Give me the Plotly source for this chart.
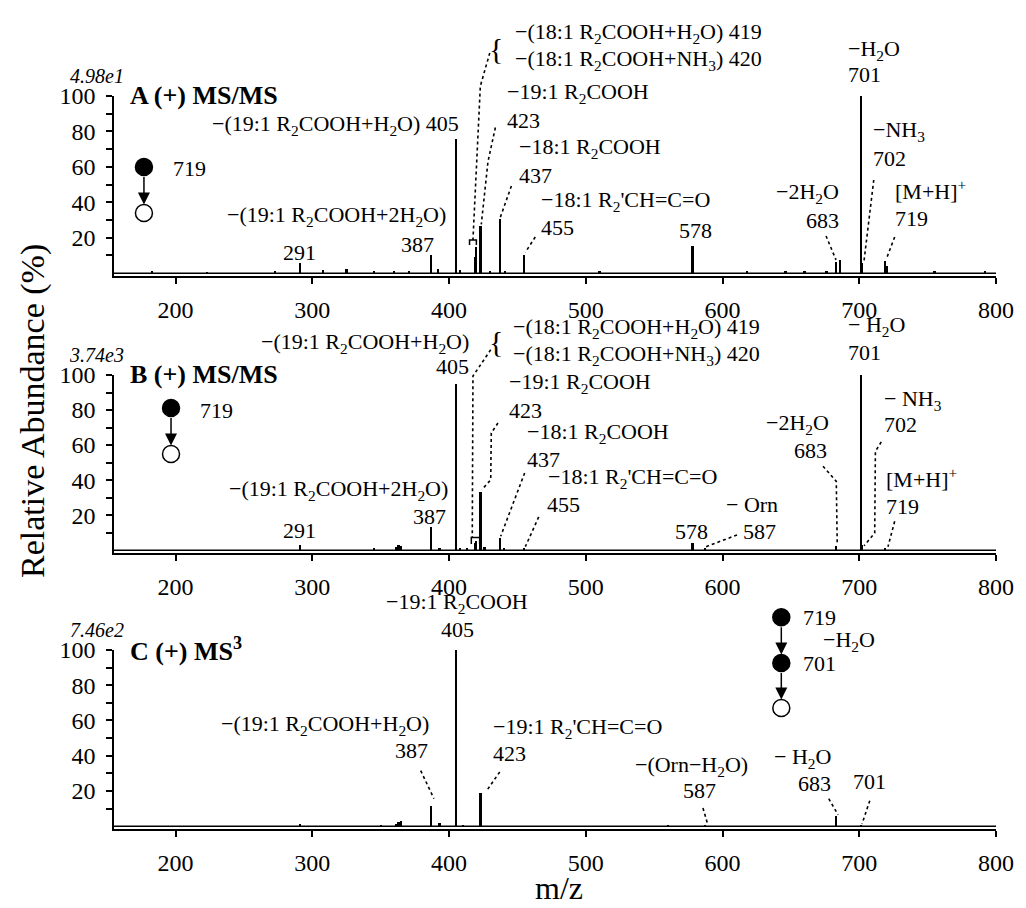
import plotly.graph_objects as go

# ============================================================================
# DATOS: picos de cada espectro (m/z, abundancia relativa %)
# ============================================================================

# A (+) MS/MS de m/z 719
mz_a = [183, 223, 273, 291, 308, 325, 345, 360, 371, 387, 392, 405, 408, 419, 420,
        423, 430, 437, 441, 455, 510, 578, 618, 646, 660, 676, 683, 686, 701, 702,
        719, 720, 755, 792]
ab_a = [1, 0.8, 1.2, 6, 2, 2.5, 1, 1.5, 1, 10.5, 2.5, 75.5, 2, 9, 14.5,
        26.5, 1.5, 30.5, 1.5, 10.5, 1, 15.5, 1, 1.5, 1.5, 1, 6.5, 7.5, 100, 6,
        7, 4, 1, 1]

# B (+) MS/MS de m/z 719
mz_b = [291, 345, 361, 363, 365, 387, 393, 405, 408, 413, 419, 420, 423, 426, 437,
        440, 455, 578, 587, 683, 701, 702, 719]
ab_b = [3, 1, 2, 3, 2.5, 13.5, 1.5, 95, 1.5, 1, 4, 5, 33, 2, 7,
        1.5, 1, 4, 1, 2.5, 100, 3, 1]

# C (+) MS3 (719 -> 701)
mz_c = [291, 350, 361, 363, 365, 387, 393, 405, 410, 423, 560, 587, 683, 701]
ab_c = [1, 0.5, 1.5, 2.5, 3, 11.5, 2, 100, 0.8, 19, 0.4, 0.6, 6, 0.5]

escalas = ['4.98e1', '3.74e3', '7.46e2']
titulos = ['A (+) MS/MS', 'B (+) MS/MS', 'C (+) MS<sup>3</sup>']
ticks_x = [200, 300, 400, 500, 600, 700, 800]
ticks_y = [10, 20, 30, 40, 50, 60, 70, 80, 90, 100]
textos_y = ['', '20', '', '40', '', '60', '', '80', '', '100']

# ============================================================================
# DISEÑO
# ============================================================================

FUENTE = 'Liberation Serif'
ANCHO, ALTO = 1026, 908
X_RANGO = [155, 800]
Y_RANGO = [-1.6, 100]
DOMINIOS = [[0.70485, 0.90308], [0.39978, 0.59581], [0.09581, 0.29295]]
SUFIJOS = ['', '2', '3']

R2 = 'R<sub>2</sub>'
H2O = 'H<sub>2</sub>O'

# etiquetas: (texto, m/z, %, alineación)
etiquetas = [
    [
        (f'−(19:1 {R2}COOH+{H2O}) 405', 408.8, 83.6, 'right'),
        (f'−(19:1 {R2}COOH+2{H2O})', 399.3, 32.3, 'right'),
        ('387', 390.5, 15.9, 'right'),
        ('291', 291, 11.4, 'center'),
        (f'−(18:1 {R2}COOH+{H2O}) 419', 446.8, 135.6, 'left'),
        (f'−(18:1 {R2}COOH+NH<sub>3</sub>) 420', 446.8, 120.3, 'left'),
        (f'−19:1 {R2}COOH', 441.0, 101.7, 'left'),
        ('423', 441.0, 85.9, 'left'),
        (f'−18:1 {R2}COOH', 449.7, 70.6, 'left'),
        ('437', 449.7, 55.4, 'left'),
        (f"−18:1 {R2}'CH=C=O", 465.8, 40.7, 'left'),
        ('455', 465.8, 25.5, 'left'),
        ('578', 580, 23.8, 'center'),
        (f'−2{H2O}', 686.7, 45.3, 'right'),
        ('683', 686.7, 30.0, 'right'),
        (f'−{H2O}', 690.3, 126.0, 'left'),
        ('701', 690.3, 111.9, 'left'),
        ('−NH<sub>3</sub>', 708.6, 80.2, 'left'),
        ('702', 708.6, 65.0, 'left'),
        ('[M+H]<sup>+</sup>', 724.7, 46.9, 'left'),
        ('719', 724.7, 31.1, 'left'),
    ],
    [
        (f'−(19:1 {R2}COOH+{H2O})', 416.1, 118.3, 'right'),
        ('405', 416.1, 105.1, 'right'),
        (f'−(19:1 {R2}COOH+2{H2O})', 400.7, 34.4, 'right'),
        ('387', 399.3, 19.5, 'right'),
        ('291', 291, 11.0, 'center'),
        (f'−(18:1 {R2}COOH+{H2O}) 419', 445.3, 126.8, 'left'),
        (f'−(18:1 {R2}COOH+NH<sub>3</sub>) 420', 445.3, 111.4, 'left'),
        (f'−19:1 {R2}COOH', 442.4, 95.4, 'left'),
        ('423', 442.4, 79.5, 'left'),
        (f'−18:1 {R2}COOH', 455.6, 66.9, 'left'),
        ('437', 455.6, 51.5, 'left'),
        (f"−18:1 {R2}'CH=C=O", 471.0, 41.3, 'left'),
        ('455', 470.0, 25.8, 'left'),
        ('578', 577, 10.4, 'center'),
        ('− Orn', 600.8, 25.8, 'left'),
        ('587', 613.5, 10.4, 'left'),
        (f'−2{H2O}', 679.1, 72.0, 'right'),
        ('683', 678.0, 56.8, 'right'),
        (f'− {H2O}', 690.3, 128.0, 'left'),
        ('701', 690.3, 112.6, 'left'),
        ('− NH<sub>3</sub>', 716.6, 85.7, 'left'),
        ('702', 716.6, 71.5, 'left'),
        ('[M+H]<sup>+</sup>', 718.1, 41.2, 'left'),
        ('719', 718.1, 25.2, 'left'),
    ],
    [
        (f'−19:1 {R2}COOH', 406, 126.7, 'center'),
        ('405', 406, 111.5, 'center'),
        (f'−(19:1 {R2}COOH+{H2O})', 386.8, 57.4, 'right'),
        ('387', 386.1, 42.7, 'right'),
        (f"−19:1 {R2}'CH=C=O", 430.9, 55.7, 'left'),
        ('423', 430.9, 41.5, 'left'),
        (f'−(Orn−{H2O})', 577.0, 34.2, 'center'),
        ('587', 583.3, 20.0, 'center'),
        (f'− {H2O}', 680.8, 38.7, 'right'),
        ('683', 680.8, 24.5, 'right'),
        ('701', 694.0, 25.1, 'left'),
    ],
]

# llaves "{" que agrupan 419/420
llaves = [(434.4, 127.0), (434.4, 119.0), None]

# líneas punteadas etiqueta -> pico
guias = [
    [
        [(429.8, 124.3), (422.9, 105.6), (417.5, 18.7)],
        [(433.9, 82.2), (428.5, 63.0), (423.6, 27.5)],
        [(445.6, 49.2), (437.5, 31.5)],
        [(463.1, 20.4), (455.8, 11.8)],
        [(675.7, 21.0), (683.0, 7.5)],
        [(710.6, 52.6), (703.5, 7.0)],
        [(725.9, 20.4), (719.8, 8.0)],
    ],
    [
        [(430.5, 114.4), (417.5, 99.4), (417.0, 7.3)],
        [(435.8, 72.6), (430.9, 66.9), (430.5, 40.2), (424.0, 34.5)],
        [(455.3, 44.1), (437.8, 8.0)],
        [(465.6, 19.0), (455.8, 2.0)],
        [(610.6, 8.7), (588.0, 2.0)],
        [(673.5, 47.9), (683.2, 39.3), (683.9, 3.0)],
        [(716.1, 61.8), (711.8, 56.4), (711.3, 9.8), (703.5, 2.5)],
        [(725.9, 16.5), (721.0, 2.0)],
    ],
    [
        [(379.3, 31.5), (389.0, 15.6)],
        [(437.1, 30.8), (427.2, 19.8)],
        [(585.7, 10.3), (589.4, 0.5)],
        [(677.7, 15.6), (684.5, 6.5)],
        [(707.7, 14.5), (702.0, 1.2)],
    ],
]

# corchete sobre 419/420: (m/z izq, m/z der, abajo, arriba)
corchetes = [(415.0, 420.0, 15.9, 18.7), (416.3, 422.4, 3.5, 7.3), None]

# esquema de precursores: círculos (m/z, %, lleno) y textos
esquemas = [
    dict(circ=[(176.9, 59.9, True), (176.9, 34.0, False)],
         textos=[('719', 196.7, 58.8)]),
    dict(circ=[(196.7, 81.2, True), (196.7, 54.9, False)],
         textos=[('719', 216.4, 79.5)]),
    dict(circ=[(643.0, 118.6, True), (643.0, 92.6, True), (643.0, 67.1, False)],
         textos=[('719', 657.6, 118.6), (f'−{H2O}', 671.8, 105.3), ('701', 657.6, 92.6)]),
]
RADIO = 8.5  # px


def a_papel(i, mz, pct):
    d0, d1 = DOMINIOS[i]
    px = (mz - X_RANGO[0]) / (X_RANGO[1] - X_RANGO[0])
    py = d0 + (pct - Y_RANGO[0]) / (Y_RANGO[1] - Y_RANGO[0]) * (d1 - d0)
    return px, py


def px_por_pct(i):
    d0, d1 = DOMINIOS[i]
    return (d1 - d0) * ALTO / (Y_RANGO[1] - Y_RANGO[0])


def ruta(i, puntos):
    partes = []
    for k, (mz, pct) in enumerate(puntos):
        px, py = a_papel(i, mz, pct)
        partes.append(('M' if k == 0 else 'L') + f' {px:.5f},{py:.5f}')
    return ' '.join(partes)


def texto(i, txt, mz, pct, xa, size=22):
    x, y = a_papel(i, mz, pct)
    return dict(text=txt, x=x, y=y, xref='paper', yref='paper', xanchor=xa,
                yanchor='middle', showarrow=False,
                font=dict(family=FUENTE, size=size, color='black'))


espectros = [(mz_a, ab_a), (mz_b, ab_b), (mz_c, ab_c)]

fig = go.Figure()
anotaciones = []
formas = []
layout = {}

for i, s in enumerate(SUFIJOS):
    mz, ab = espectros[i]
    fig.add_trace(go.Bar(
        x=mz, y=ab, width=1.6,
        marker=dict(color='black', line=dict(width=0)),
        xaxis='x' + s, yaxis='y' + s,
        cliponaxis=False, showlegend=False
    ))

    # esquema de precursores
    esq = esquemas[i]
    k = px_por_pct(i)
    for cx, cy, lleno in esq['circ']:
        px, py = a_papel(i, cx, cy)
        formas.append(dict(
            type='circle', xref='paper', yref='paper',
            xsizemode='pixel', ysizemode='pixel', xanchor=px, yanchor=py,
            x0=-RADIO, x1=RADIO, y0=-RADIO, y1=RADIO,
            fillcolor='black' if lleno else 'white',
            line=dict(color='black', width=1.5)
        ))
    for c_sup, c_inf in zip(esq['circ'][:-1], esq['circ'][1:]):
        hx, hy = a_papel(i, c_inf[0], c_inf[1])
        hy += RADIO / ALTO
        largo = (c_sup[1] - c_inf[1]) * k - 2 * RADIO
        anotaciones.append(dict(
            text='', x=hx, y=hy, xref='paper', yref='paper',
            ax=0, ay=-largo, axref='pixel', ayref='pixel',
            showarrow=True, arrowhead=2, arrowsize=1.6, arrowwidth=1.5,
            arrowcolor='black', standoff=0, startstandoff=0
        ))
    for txt, x, y in esq['textos']:
        anotaciones.append(texto(i, txt, x, y, 'left'))

    # etiquetas de picos
    for txt, x, y, xa in etiquetas[i]:
        anotaciones.append(texto(i, txt, x, y, xa))
    if llaves[i]:
        anotaciones.append(texto(i, '{', llaves[i][0], llaves[i][1], 'center', size=30))

    # factor de escala y título del panel
    anotaciones.append(texto(i, f'<i>{escalas[i]}</i>', 163.8, 111.4, 'right', size=20))
    anotaciones.append(texto(i, f'<b>{titulos[i]}</b>', 165.2, 100.2, 'left', size=26))

    # guías punteadas
    for pts in guias[i]:
        formas.append(dict(type='path', path=ruta(i, pts), xref='paper', yref='paper',
                           line=dict(color='black', width=1.6, dash='dot')))
    if corchetes[i]:
        l, r, b, t = corchetes[i]
        formas.append(dict(type='path', path=ruta(i, [(l, b), (l, t), (r, t), (r, b)]),
                           xref='paper', yref='paper',
                           line=dict(color='black', width=1.5)))

    # línea base del espectro
    formas.append(dict(type='line', xref='x' + s + ' domain', x0=0, x1=1,
                       yref='y' + s, y0=0, y1=0,
                       line=dict(color='black', width=1.5)))

    layout['xaxis' + s] = dict(
        domain=[0, 1], range=X_RANGO, anchor='y' + s,
        showline=True, linewidth=2, linecolor='black',
        ticks='outside', ticklen=6, tickwidth=1.5, tickcolor='black',
        tickvals=ticks_x, ticklabelstandoff=5,
        tickfont=dict(family=FUENTE, size=24, color='black'),
        showgrid=False, zeroline=False, automargin=False
    )
    layout['yaxis' + s] = dict(
        domain=DOMINIOS[i], range=Y_RANGO, anchor='x' + s,
        showline=True, linewidth=1.5, linecolor='black',
        ticks='outside', ticklen=6, tickwidth=1.5, tickcolor='black',
        tickvals=ticks_y, ticktext=textos_y, ticklabelstandoff=6,
        tickfont=dict(family=FUENTE, size=24, color='black'),
        showgrid=False, zeroline=False, automargin=False
    )

# títulos de ejes
anotaciones.append(dict(
    text='Relative Abundance (%)', x=-0.0918, y=0.5562, xref='paper', yref='paper',
    textangle=-90, xanchor='center', yanchor='middle', showarrow=False,
    font=dict(family=FUENTE, size=34, color='black')
))
anotaciones.append(dict(
    text='m/z', x=0.5045, y=0.031, xref='paper', yref='paper',
    xanchor='center', yanchor='middle', showarrow=False,
    font=dict(family=FUENTE, size=32, color='black')
))

fig.update_layout(
    template='none',
    width=ANCHO, height=ALTO,
    margin=dict(l=106, r=38, t=0, b=0),
    paper_bgcolor='white', plot_bgcolor='white',
    showlegend=False, bargap=0,
    annotations=anotaciones, shapes=formas,
    **layout
)

fig.write_html('out.html')
